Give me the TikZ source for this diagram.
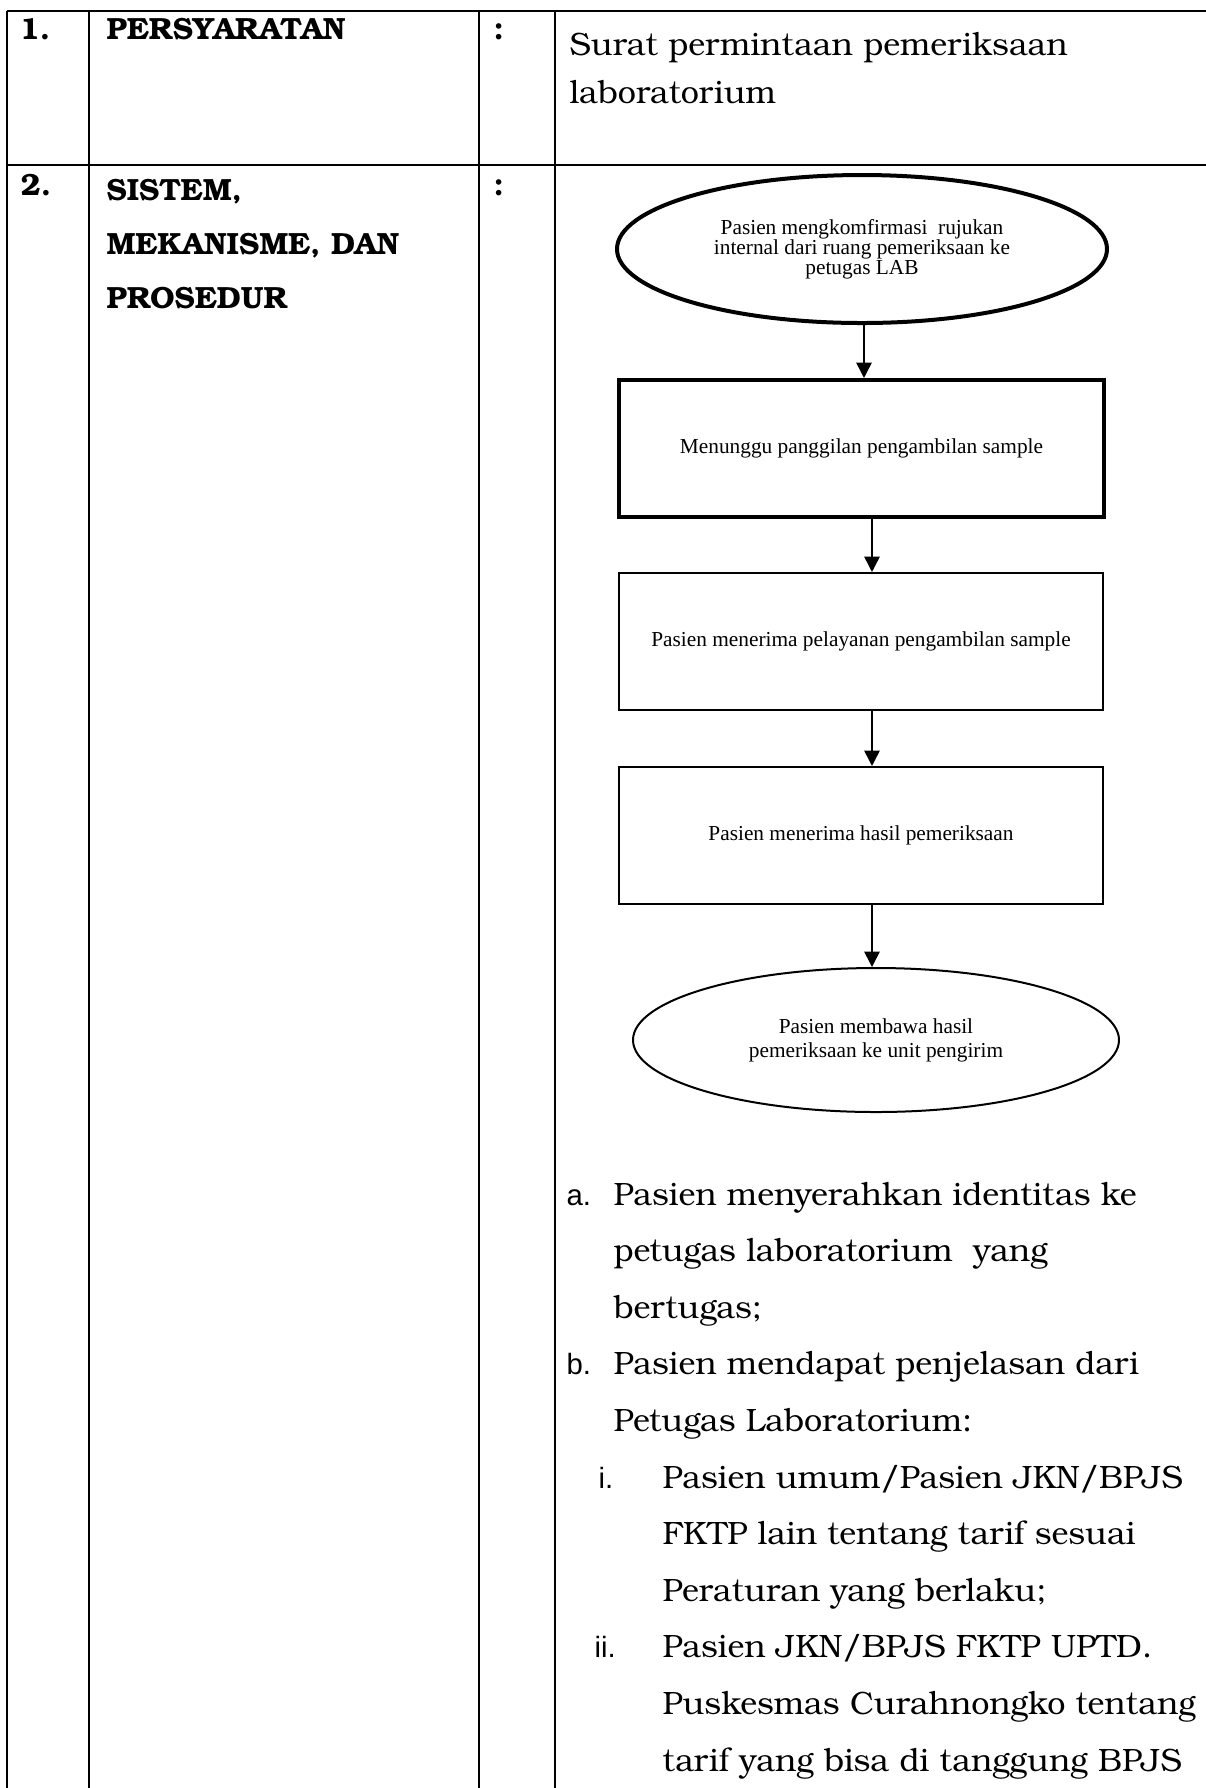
\documentclass[tikz,border=0pt]{standalone}
\usepackage{fontspec}
\setmainfont{TeX Gyre Bonum}
\newfontfamily\timesf{Liberation Serif}
\newfontfamily\arialf{Liberation Sans}
\usetikzlibrary{arrows.meta,shapes.geometric}
\begin{document}
\begin{tikzpicture}[x=0.375pt,y=-0.375pt,
  grid/.style={line width=0.8pt},
  headtxt/.style={anchor=base west, inner sep=0pt, font=\fontsize{11.5}{14}\selectfont\bfseries},
  bodytxt/.style={anchor=base west, inner sep=0pt, font=\fontsize{12.1}{14}\selectfont},
  labtxt/.style={anchor=base west, inner sep=0pt, font=\arialf\fontsize{11}{13}\selectfont},
  flowfont/.style={font=\timesf\fontsize{8}{7.9}\selectfont, align=center},
  ellthick/.style={ellipse, draw, line width=1.5pt, inner sep=0pt, flowfont},
  ellthin/.style={ellipse, draw, line width=0.75pt, inner sep=0pt, flowfont},
  boxthick/.style={rectangle, draw, line width=1.5pt, inner sep=0pt, flowfont,
    minimum width=181.9pt, minimum height=51.4pt},
  boxthin/.style={rectangle, draw, line width=0.75pt, inner sep=0pt, flowfont,
    minimum width=181.5pt, minimum height=51.4pt},
  arr/.style={line width=0.6pt, -{Triangle[width=5.8pt,length=5.8pt]}}
]
\useasboundingbox (0,0) rectangle (1206,1788);
% table
\draw[grid] (7,11) -- (1206,11);
\draw[grid] (7,165) -- (1206,165);
\draw[grid] (7,11) -- (7,1788);
\draw[grid] (89,11) -- (89,1788);
\draw[grid] (479,11) -- (479,1788);
\draw[grid] (555,11) -- (555,1788);
% row 1
\node[headtxt] (n1) at (19,39) {1.};
\node[headtxt] (h1) at (106,39) {PERSYARATAN};
\node[headtxt] (c1) at (493,39) {:};
\node[bodytxt] (s1) at (569,55) {Surat permintaan pemeriksaan};
\node[bodytxt] (s2) at (569,103) {laboratorium};
% row 2
\node[headtxt] (n2) at (20,195) {2.};
\node[headtxt] (h2a) at (106,200) {SISTEM,};
\node[headtxt] (h2b) at (106,254) {MEKANISME, DAN};
\node[headtxt] (h2c) at (106,308) {PROSEDUR};
\node[headtxt] (c2) at (493,195) {:};
% flowchart
\node[ellthick, minimum width=183.75pt, minimum height=55.5pt,
  font=\timesf\fontsize{8}{7.5}\selectfont] (e1) at (862,249)
  {Pasien mengkomfirmasi~~rujukan\\internal dari ruang pemeriksaan ke\\petugas LAB};
\node[boxthick] (r1) at (861.5,448.5) {Menunggu panggilan pengambilan sample};
\node[boxthin] (r2) at (861,641.5) {Pasien menerima pelayanan pengambilan sample};
\node[boxthin] (r3) at (861,835.5) {Pasien menerima hasil pemeriksaan};
\node[ellthin, minimum width=182.25pt, minimum height=54pt,
  font=\timesf\fontsize{8}{9}\selectfont] (e2) at (876,1040)
  {Pasien membawa hasil\\pemeriksaan ke unit pengirim};
\draw[arr] (e1.south -| 864,0) -- (r1.north -| 864,0);
\draw[arr] (r1.south -| 872,0) -- (r2.north -| 872,0);
\draw[arr] (r2.south -| 872,0) -- (r3.north -| 872,0);
\draw[arr] (r3.south -| 872,0) -- (e2.north -| 872,0);
% list
\node[labtxt] (la) at (566,1205) {a.};
\node[bodytxt] (ta1) at (613,1205) {Pasien menyerahkan identitas ke};
\node[bodytxt] (ta2) at (613,1261.6) {petugas laboratorium~~yang};
\node[bodytxt] (ta3) at (613,1318.2) {bertugas;};
\node[labtxt] (lb) at (566,1374.8) {b.};
\node[bodytxt] (tb1) at (613,1374.8) {Pasien mendapat penjelasan dari};
\node[bodytxt] (tb2) at (613,1431.4) {Petugas Laboratorium:};
\node[labtxt] (li) at (598,1488) {i.};
\node[bodytxt] (ti1) at (662,1488) {Pasien umum/Pasien JKN/BPJS};
\node[bodytxt] (ti2) at (662,1544.6) {FKTP lain tentang tarif sesuai};
\node[bodytxt] (ti3) at (662,1601.2) {Peraturan yang berlaku;};
\node[labtxt] (lii) at (594,1657.8) {ii.};
\node[bodytxt] (tii1) at (662,1657.8) {Pasien JKN/BPJS FKTP UPTD.};
\node[bodytxt] (tii2) at (662,1714.4) {Puskesmas Curahnongko tentang};
\node[bodytxt] (tii3) at (662,1771) {tarif yang bisa di tanggung BPJS};
\end{tikzpicture}
\end{document}
